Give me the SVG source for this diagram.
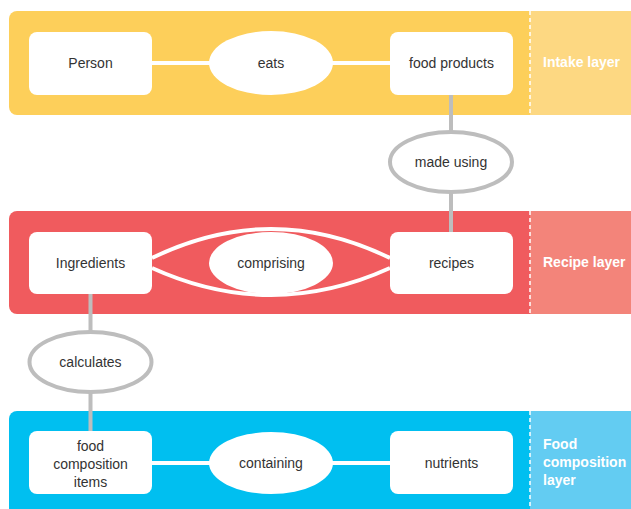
<svg xmlns="http://www.w3.org/2000/svg" width="631" height="509" viewBox="0 0 631 509">
<style>
.box{fill:#fff}
.lbl{font-family:"Liberation Sans",Arial,sans-serif;font-size:14px;fill:#333;text-anchor:middle;dominant-baseline:central}
.layer{font-family:"Liberation Sans",Arial,sans-serif;font-size:14px;font-weight:bold;fill:#fff;dominant-baseline:central}
.wl{stroke:#fff;stroke-width:4;fill:none}
.gl{stroke:#bdbdbd;stroke-width:4;fill:none}
.dash{stroke:#fff;stroke-width:1.5;stroke-dasharray:4,3}
</style>
<g id="bands">
<rect x="9" y="11" width="640" height="104" rx="8" fill="#fdcf5a"/>
<rect x="530" y="11" width="101" height="104" fill="#fdd882"/>
<line class="dash" x1="530" y1="11" x2="530" y2="115"/>
<rect x="9" y="211" width="640" height="103" rx="8" fill="#f05b5e"/>
<rect x="530" y="211" width="101" height="103" fill="#f3847a"/>
<line class="dash" x1="530" y1="211" x2="530" y2="314"/>
<rect x="9" y="411" width="640" height="110" rx="8" fill="#00bff0"/>
<rect x="530" y="411" width="101" height="98" fill="#63ccf2"/>
<line class="dash" x1="530" y1="411" x2="530" y2="509"/>
<text class="layer" x="543" y="62">Intake layer</text>
<text class="layer" x="543" y="262">Recipe layer</text>
<text class="layer" x="543" y="444">Food</text>
<text class="layer" x="543" y="462">composition</text>
<text class="layer" x="543" y="480">layer</text>
</g>
<g id="connectors">
<line class="wl" x1="152" y1="63" x2="390" y2="63"/>
<line class="wl" x1="152" y1="463" x2="390" y2="463"/>
<path class="wl" d="M152,258 Q271,200 390,258"/>
<path class="wl" d="M152,268 Q271,322 390,268"/>
<line class="gl" x1="451" y1="95" x2="451" y2="232"/>
<line class="gl" x1="90.5" y1="294" x2="90.5" y2="431"/>
</g>
<g id="person"><rect class="box" x="29" y="32" width="123" height="63" rx="8"/><text class="lbl" x="90.5" y="63">Person</text></g>
<g id="eats"><ellipse class="box" cx="271" cy="63" rx="62" ry="32"/><text class="lbl" x="271" y="63">eats</text></g>
<g id="food-products"><rect class="box" x="390" y="32" width="123" height="63" rx="8"/><text class="lbl" x="451.5" y="63">food products</text></g>
<g id="made-using"><ellipse cx="451" cy="162" rx="61" ry="30" fill="#fff" stroke="#bdbdbd" stroke-width="4"/><text class="lbl" x="451" y="162">made using</text></g>
<g id="ingredients"><rect class="box" x="29" y="232" width="123" height="62" rx="8"/><text class="lbl" x="90.5" y="263">Ingredients</text></g>
<g id="comprising"><ellipse class="box" cx="271" cy="263" rx="62" ry="31"/><text class="lbl" x="271" y="263">comprising</text></g>
<g id="recipes"><rect class="box" x="390" y="232" width="123" height="62" rx="8"/><text class="lbl" x="451.5" y="263">recipes</text></g>
<g id="calculates"><ellipse cx="90.5" cy="362" rx="61" ry="30" fill="#fff" stroke="#bdbdbd" stroke-width="4"/><text class="lbl" x="90.5" y="362">calculates</text></g>
<g id="food-composition-items"><rect class="box" x="29" y="431" width="123" height="63" rx="8"/><text class="lbl" x="90.5" y="446">food</text><text class="lbl" x="90.5" y="464">composition</text><text class="lbl" x="90.5" y="481.5">items</text></g>
<g id="containing"><ellipse class="box" cx="271" cy="463" rx="62" ry="31"/><text class="lbl" x="271" y="463">containing</text></g>
<g id="nutrients"><rect class="box" x="390" y="431" width="123" height="63" rx="8"/><text class="lbl" x="451.5" y="463">nutrients</text></g>
</svg>
